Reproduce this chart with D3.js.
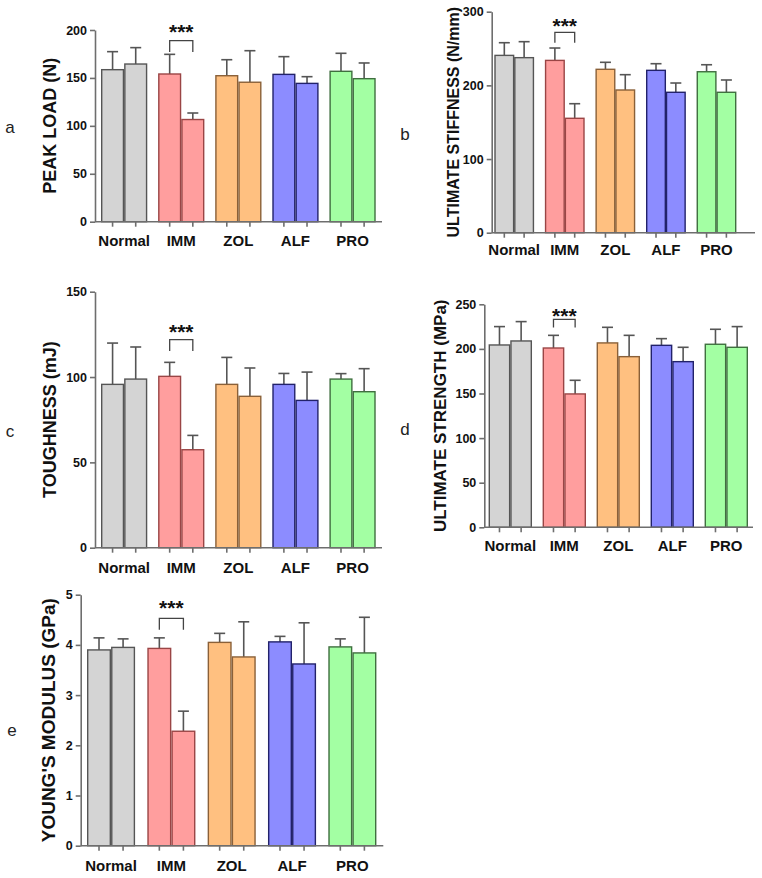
<!DOCTYPE html>
<html>
<head>
<meta charset="utf-8">
<script src="https://cdn.jsdelivr.net/npm/d3@7"></script>
<style>
  body { margin: 0; background: #fff; }
  svg text { font-family: "Liberation Sans", Arial, sans-serif; }
</style>
</head>
<body>
<div id="chart"></div>
<script>
// groups and the two bars each
var groups = ["Normal", "IMM", "ZOL", "ALF", "PRO"];
var groupFill = ["#d4d4d4", "#ff9e9e", "#ffc080", "#8c8cff", "#a3ffa3"];
var groupStroke = ["#555555", "#9a4545", "#8a6038", "#22226a", "#3f6f3f"];

// a - peak load (N)
var peakLoadMean = [158.6, 164.5, 154.1, 106.6, 152.3, 145.5, 153.7, 144.3, 156.9, 149.2];
var peakLoadErr  = [177.4, 181.6, 174.6, 113.4, 169.0, 178.4, 172.2, 151.3, 175.7, 165.6];
var peakLoadTicks = [0, 50, 100, 150, 200];

// b - ultimate stiffness (N/mm)
var stiffMean = [240.7, 237.6, 233.9, 155.3, 221.8, 193.7, 220.4, 190.6, 218.5, 190.6];
var stiffErr  = [257.9, 259.3, 250.7, 175.1, 231.3, 214.5, 229.4, 203.2, 228.0, 207.3];
var stiffTicks = [0, 100, 200, 300];

// c - toughness (mJ)
var toughMean = [95.7, 98.8, 100.4, 57.4, 95.7, 88.7, 95.7, 86.3, 98.8, 91.4];
var toughErr  = [119.9, 117.6, 108.6, 65.8, 111.5, 105.3, 102.1, 102.9, 102.0, 104.9];
var toughTicks = [0, 50, 100, 150];

// d - ultimate strength (MPa)
var strengthMean = [204.4, 208.9, 201.0, 149.5, 206.7, 191.3, 204.0, 185.7, 205.2, 201.8];
var strengthErr  = [225.0, 230.6, 215.2, 164.8, 224.2, 215.2, 211.5, 201.8, 222.0, 225.0];
var strengthTicks = [0, 50, 100, 150, 200, 250];

// e - young's modulus (GPa)
var modulusMean = [3.90, 3.95, 3.93, 2.28, 4.05, 3.76, 4.06, 3.62, 3.96, 3.84];
var modulusErr  = [4.14, 4.12, 4.14, 2.68, 4.23, 4.46, 4.17, 4.44, 4.12, 4.55];
var modulusTicks = [0, 1, 2, 3, 4, 5];

var W = 762, H = 878;
var svg = d3.select("#chart").append("svg")
  .attr("width", W).attr("height", H);

var panels = [
  {letter: "a", lx: 10, ly: 128, title: "PEAK LOAD (N)", titleX: 50, titleSize: 18,
   mean: peakLoadMean, err: peakLoadErr, ticks: peakLoadTicks,
   axisX: 95, axisEnd: 382, top: 30, bottom: 221.7, bandStart: 101.7, bandEnd: 375, pad: 0.214,
   catY: 245.5, sig: {top: 189, leg: 177, star: 203}},
  {letter: "b", lx: 405, ly: 135, title: "ULTIMATE STIFFNESS (N/mm)", titleX: 453, titleSize: 16,
   mean: stiffMean, err: stiffErr, ticks: stiffTicks,
   axisX: 491.7, axisEnd: 755, top: 11.7, bottom: 232.7, bandStart: 495, bandEnd: 735.7, pad: 0.24,
   catY: 254.5, sig: {top: 272, leg: 258, star: 287}},
  {letter: "c", lx: 10, ly: 432, title: "TOUGHNESS (mJ)", titleX: 50, titleSize: 18,
   mean: toughMean, err: toughErr, ticks: toughTicks,
   axisX: 95, axisEnd: 382, top: 291.7, bottom: 547.7, bandStart: 101.7, bandEnd: 375, pad: 0.214,
   catY: 572.5, sig: {top: 121.9, leg: 115.3, star: 129.5}},
  {letter: "d", lx: 405, ly: 430, title: "ULTIMATE STRENGTH (MPa)", titleX: 440, titleSize: 17,
   mean: strengthMean, err: strengthErr, ticks: strengthTicks,
   axisX: 484.3, axisEnd: 753, top: 304.3, bottom: 527.3, bandStart: 489.3, bandEnd: 747.3, pad: 0.222,
   catY: 550.5, sig: {top: 233, leg: 224, star: 242.8}},
  {letter: "e", lx: 12, ly: 731, title: "YOUNG'S MODULUS (GPa)", titleX: 48, titleSize: 19,
   mean: modulusMean, err: modulusErr, ticks: modulusTicks,
   axisX: 80.7, axisEnd: 383.3, top: 594.7, bottom: 845.7, bandStart: 87.7, bandEnd: 375.7, pad: 0.226,
   catY: 870.5, sig: {top: 4.53, leg: 4.30, star: 4.83}}
];

var axisColor = "#6e6e6e";
var errColor = "#555555";

panels.forEach(drawPanel);

function drawPanel(p) {
  var g = svg.append("g");
  var ticks = p.ticks;
  var y = d3.scaleLinear()
    .domain([0, ticks[ticks.length - 1]])
    .range([p.bottom, p.top]);

  var x = d3.scaleBand()
    .domain(groups)
    .range([p.bandStart, p.bandEnd])
    .paddingInner(p.pad)
    .paddingOuter(0);

  var inner = d3.scaleBand()
    .domain([0, 1])
    .range([0, x.bandwidth()])
    .paddingInner(0.06);

  var rows = p.mean.map(function (m, i) {
    var gi = Math.floor(i / 2);
    return {group: groups[gi], gi: gi, k: i % 2, mean: m, err: p.err[i]};
  });

  // error bars (upper only)
  var capW = 11;
  rows.forEach(function (d) {
    var cx = x(d.group) + inner(d.k) + inner.bandwidth() / 2;
    g.append("line")
      .attr("x1", cx).attr("x2", cx)
      .attr("y1", y(d.mean)).attr("y2", y(d.err))
      .attr("stroke", errColor).attr("stroke-width", 1.6);
    g.append("line")
      .attr("x1", cx - capW / 2).attr("x2", cx + capW / 2)
      .attr("y1", y(d.err)).attr("y2", y(d.err))
      .attr("stroke", errColor).attr("stroke-width", 1.6);
  });

  // bars
  g.selectAll(".bar").data(rows).enter().append("rect")
    .attr("class", "bar")
    .attr("x", function (d) { return x(d.group) + inner(d.k); })
    .attr("width", inner.bandwidth())
    .attr("y", function (d) { return y(d.mean); })
    .attr("height", function (d) { return y(0) - y(d.mean); })
    .attr("fill", function (d) { return groupFill[d.gi]; })
    .attr("stroke", function (d) { return groupStroke[d.gi]; })
    .attr("stroke-width", 1.4);

  // y axis
  var yAxis = g.append("g")
    .attr("transform", "translate(" + p.axisX + ",0)")
    .call(d3.axisLeft(y).tickValues(ticks).tickFormat(d3.format("d"))
      .tickSize(5).tickSizeOuter(0).tickPadding(3));
  yAxis.select(".domain").attr("stroke", axisColor).attr("stroke-width", 1.6);
  yAxis.selectAll(".tick line").attr("stroke", axisColor).attr("stroke-width", 1.6);
  yAxis.selectAll(".tick text")
    .attr("fill", "#111")
    .style("font-family", "'Liberation Sans', Arial, sans-serif")
    .style("font-size", "12.5px")
    .style("font-weight", "bold");

  // x axis line and ticks at each bar center
  g.append("line")
    .attr("x1", p.axisX).attr("x2", p.axisEnd)
    .attr("y1", y(0)).attr("y2", y(0))
    .attr("stroke", axisColor).attr("stroke-width", 1.6);
  rows.forEach(function (d) {
    var cx = x(d.group) + inner(d.k) + inner.bandwidth() / 2;
    g.append("line")
      .attr("x1", cx).attr("x2", cx)
      .attr("y1", y(0)).attr("y2", y(0) + 5)
      .attr("stroke", axisColor).attr("stroke-width", 1.6);
  });

  // category labels
  g.selectAll(".cat").data(groups).enter().append("text")
    .attr("class", "cat")
    .attr("x", function (d) { return x(d) + x.bandwidth() / 2; })
    .attr("y", p.catY)
    .attr("text-anchor", "middle")
    .style("font-size", "15px")
    .style("font-weight", "bold")
    .attr("fill", "#111")
    .text(function (d) { return d; });

  // y title
  var midY = (p.top + p.bottom) / 2;
  g.append("text")
    .attr("transform", "translate(" + p.titleX + "," + midY + ") rotate(-90)")
    .attr("text-anchor", "middle")
    .attr("dy", "0.36em")
    .style("font-size", p.titleSize + "px")
    .style("font-weight", "bold")
    .attr("fill", "#111")
    .text(p.title);

  // panel letter
  g.append("text")
    .attr("x", p.lx).attr("y", p.ly)
    .attr("text-anchor", "middle")
    .attr("dy", "0.3em")
    .style("font-size", "17px")
    .attr("fill", "#222")
    .text(p.letter);

  // significance bracket over IMM
  var xa = x("IMM") + inner(0) + inner.bandwidth() / 2;
  var xb = x("IMM") + inner(1) + inner.bandwidth() / 2;
  g.append("path")
    .attr("d", "M" + xa + "," + y(p.sig.leg) + "V" + y(p.sig.top) + "H" + xb + "V" + y(p.sig.leg))
    .attr("fill", "none")
    .attr("stroke", "#444")
    .attr("stroke-width", 1.3);
  var starSize = 21;
  g.append("text")
    .attr("x", (xa + xb) / 2)
    .attr("y", y(p.sig.star) + 0.57 * starSize)
    .attr("text-anchor", "middle")
    .style("font-size", starSize + "px")
    .style("font-weight", "bold")
    .attr("fill", "#111")
    .text("***");
}
</script>
</body>
</html>
